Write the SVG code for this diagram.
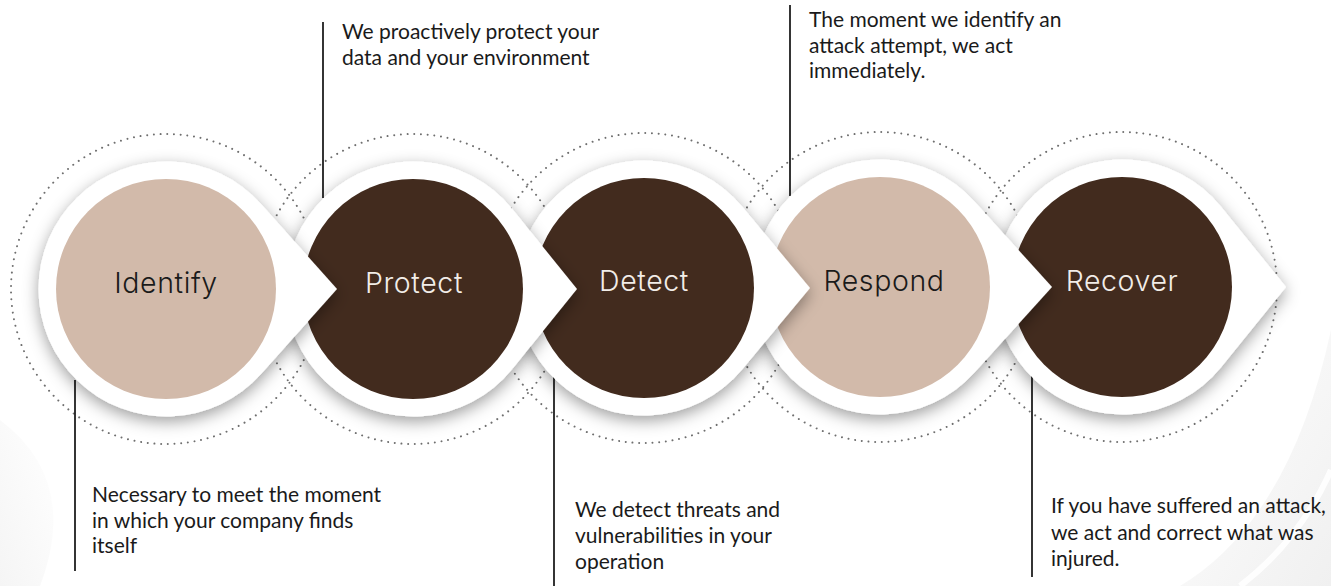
<svg xmlns="http://www.w3.org/2000/svg" width="1331" height="586" viewBox="0 0 1331 586">
  <defs>
    <filter id="shadow" x="-30%" y="-30%" width="160%" height="160%">
      <feDropShadow dx="0" dy="5" stdDeviation="8" flood-color="#000" flood-opacity="0.38"/>
    </filter>
    <linearGradient id="bgR" x1="0" y1="0" x2="1" y2="1">
      <stop offset="0" stop-color="#ffffff"/>
      <stop offset="1" stop-color="#f0f0f0"/>
    </linearGradient>
    <linearGradient id="bgL" x1="1" y1="0" x2="0" y2="1">
      <stop offset="0" stop-color="#ffffff"/>
      <stop offset="1" stop-color="#f5f5f5"/>
    </linearGradient>
  </defs>
  <style>
    .dots { fill: none; stroke: #6f6f6f; stroke-width: 2; stroke-dasharray: 0.01 6.7; stroke-linecap: round; }
    .drop { fill: #ffffff; filter: url(#shadow); }
    .light { fill: #d2baaa; }
    .dark { fill: #422b1e; }
    .lbl { font-family: Inter, "Noto Sans", sans-serif; font-weight: 300; font-size: 28.5px; letter-spacing: 0.6px; text-anchor: middle; }
    .lbl-d { fill: #1a1a1a; }
    .lbl-l { fill: #f2ede8; }
    .body { font-family: Lato, "Liberation Sans", sans-serif; font-size: 21px; fill: #1a1a1a; }
    .lead { stroke: #1f1f1f; stroke-width: 1.8; }
  </style>

  <rect width="1331" height="586" fill="#ffffff"/>
  <path d="M0,420 Q80,480 40,586 L0,586 Z" fill="url(#bgL)"/>
  <path d="M1331,330 L1331,586 L1180,586 Q1290,520 1331,330 Z" fill="url(#bgR)"/>
  <path d="M1240,586 Q1300,540 1331,470" fill="none" stroke="#ffffff" stroke-width="6" opacity="0.9"/>

  <g id="dotted-rings">
    <circle class="dots" cx="166" cy="289" r="155"/>
    <circle class="dots" cx="413" cy="289" r="155"/>
    <circle class="dots" cx="644" cy="288" r="155"/>
    <circle class="dots" cx="880" cy="287" r="155"/>
    <circle class="dots" cx="1122" cy="287" r="155"/>
  </g>

  <g id="connectors">
    <line class="lead" x1="75" y1="380" x2="75" y2="571"/>
    <line class="lead" x1="323" y1="22" x2="323" y2="198"/>
    <line class="lead" x1="554" y1="377" x2="554" y2="586"/>
    <line class="lead" x1="790" y1="5" x2="790" y2="196"/>
    <line class="lead" x1="1032" y1="374" x2="1032" y2="577"/>
  </g>

  <g id="node-recover">
    <path class="drop" d="M1286,287 L1221.12,206.8 A127.5,127.5 0 1 0 1221.12,367.2 Z"/>
    <circle class="dark" cx="1122" cy="287" r="110"/>
    <text class="lbl lbl-l" x="1122" y="291">Recover</text>
  </g>
  <g id="node-respond">
    <path class="drop" d="M1052,287 L974.51,201.42 A127.5,127.5 0 1 0 974.51,372.58 Z"/>
    <circle class="light" cx="880" cy="287" r="110"/>
    <text class="lbl lbl-d" x="884" y="291">Respond</text>
  </g>
  <g id="node-detect">
    <path class="drop" d="M810,288 L741.93,206.36 A127.5,127.5 0 1 0 741.93,369.64 Z"/>
    <circle class="dark" cx="644" cy="288" r="110"/>
    <text class="lbl lbl-l" x="644" y="291">Detect</text>
  </g>
  <g id="node-protect">
    <path class="drop" d="M577,289 L512.12,208.8 A127.5,127.5 0 1 0 512.12,369.2 Z"/>
    <circle class="dark" cx="413" cy="289" r="110"/>
    <text class="lbl lbl-l" x="414" y="293">Protect</text>
  </g>
  <g id="node-identify">
    <path class="drop" d="M337,289 L261.06,204.03 A127.5,127.5 0 1 0 261.06,373.97 Z"/>
    <circle class="light" cx="166" cy="289" r="110"/>
    <text class="lbl lbl-d" x="166" y="293">Identify</text>
  </g>

  <g id="text-identify">
    <text class="body" x="92" y="502">Necessary to meet the moment</text>
    <text class="body" x="92" y="528">in which your company finds</text>
    <text class="body" x="92" y="553">itself</text>
  </g>
  <g id="text-protect">
    <text class="body" x="342" y="39">We proactively protect your</text>
    <text class="body" x="342" y="65">data and your environment</text>
  </g>
  <g id="text-detect">
    <text class="body" x="575" y="517">We detect threats and</text>
    <text class="body" x="575" y="543">vulnerabilities in your</text>
    <text class="body" x="575" y="569">operation</text>
  </g>
  <g id="text-respond">
    <text class="body" x="809" y="27">The moment we identify an</text>
    <text class="body" x="809" y="53">attack attempt, we act</text>
    <text class="body" x="809" y="78">immediately.</text>
  </g>
  <g id="text-recover">
    <text class="body" x="1051" y="513">If you have suffered an attack,</text>
    <text class="body" x="1051" y="540">we act and correct what was</text>
    <text class="body" x="1051" y="566">injured.</text>
  </g>
</svg>
